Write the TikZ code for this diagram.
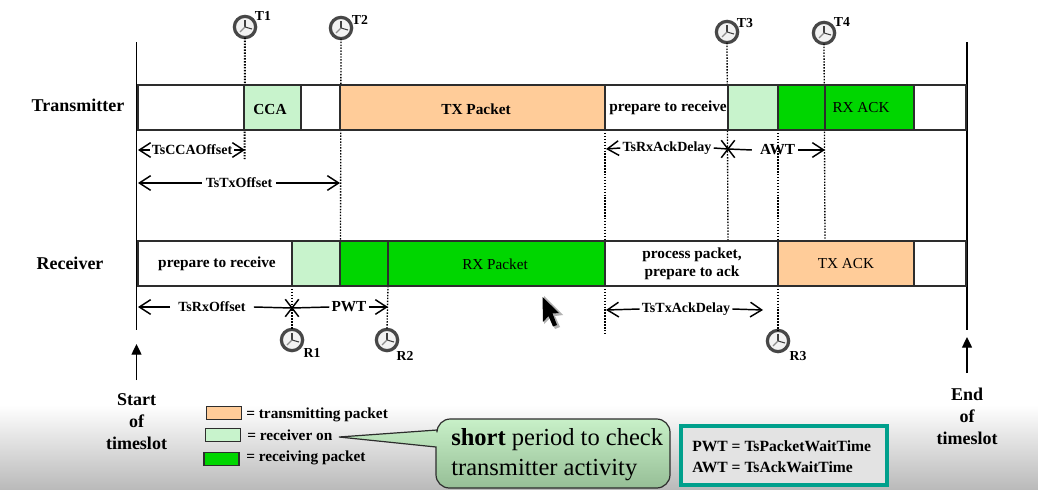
\documentclass[tikz,border=0pt]{standalone}
\usepackage{fontspec}
\setmainfont{Liberation Serif}
\usetikzlibrary{arrows.meta,shapes.misc,calc}
\definecolor{txorange}{RGB}{255,204,153}
\definecolor{rxon}{RGB}{200,243,204}
\definecolor{rxgreen}{RGB}{0,214,0}
\definecolor{tealbox}{RGB}{0,160,140}
\definecolor{edge}{RGB}{45,45,45}
\definecolor{calltop}{RGB}{200,240,200}
\definecolor{callbot}{RGB}{150,190,150}
\tikzset{
  seg/.style={draw=edge,line width=1.5pt,inner sep=0pt,outer sep=0pt,anchor=center,align=center},
  bd/.style={font=\fontsize{11.5}{13.5}\selectfont\bfseries},
  rgl/.style={font=\fontsize{11.4}{13.5}\selectfont},
  dimlbl/.style={font=\fontsize{10.5}{12}\selectfont\bfseries,inner ysep=0pt,inner xsep=1.5pt},
  clocklbl/.style={font=\fontsize{10.3}{12}\selectfont\bfseries,inner sep=0pt},
  side/.style={font=\fontsize{13.5}{16.5}\selectfont\bfseries,inner sep=0pt,align=center},
  legendlbl/.style={font=\fontsize{11.5}{13}\selectfont\bfseries,inner sep=0pt,anchor=west},
  dimline/.style={line width=1.1pt,black},
  dimarrow/.style={dimline,-{Straight Barb[length=8.5pt,width=11pt,line width=1.1pt]}},
  guide/.style={black,line width=1pt,dash pattern=on 1.1pt off 1.1pt},
  wall/.style={black,line width=0.9pt},
  uparrow/.style={line width=1pt,black,-{Triangle[length=8pt,width=7.5pt]}},
  clockface/.style={circle,draw=black!72,fill=black!5,line width=2.4pt,minimum size=16pt,inner sep=0pt,outer sep=0pt},
  xmark/.style={cross out,draw=black,line width=1.1pt,minimum width=9pt,minimum height=12pt,inner sep=0pt},
  swatch/.style={draw=edge,line width=1.2pt,inner sep=0pt,minimum width=26.5pt,minimum height=10pt}
}
\newcommand\seg[6]{\node[seg,fill=#5,minimum width={(#3-#2)*0.75pt},minimum height=33.75pt] (#1) at ({(#2+#3)/2},#4) {#6};}
\newcommand\clockicon[3]{%
  \node[clockface] (#1) at (#2,#3) {};
  \draw[black!75,line width=0.8pt] (#1.center) -- ++(0,-7);
  \draw[black!75,line width=0.8pt] (#1.center) -- ++(7,2);
  \draw[black!45,line width=1pt] (#1.center) -- ++(-5,5);
}
\begin{document}
\begin{tikzpicture}[x=0.75pt,y=-0.75pt]
\useasboundingbox (0,0) rectangle (1038,489);
\fill[white] (0,0) rectangle (1038,489);
\shade[top color=white,bottom color=black!27] (0,405) rectangle (1038,489);

% clocks
\clockicon{T1}{245}{27}
\clockicon{T2}{341}{28}
\clockicon{T3}{727}{32}
\clockicon{T4}{824}{33}
\clockicon{R1}{292}{340}
\clockicon{R2}{387}{340}
\clockicon{R3}{778}{341}
\node[clocklbl] (lT1) at (263,16) {T1};
\node[clocklbl] (lT2) at (360,20) {T2};
\node[clocklbl] (lT3) at (745,23) {T3};
\node[clocklbl] (lT4) at (842,22) {T4};
\node[clocklbl] (lR1) at (312,353) {R1};
\node[clocklbl] (lR2) at (405,356) {R2};
\node[clocklbl] (lR3) at (798,356) {R3};

% named free ends
\coordinate (wallLt) at (136.5,42);
\coordinate (wallLb) at (136.5,330);
\coordinate (wallRt) at (967,42);
\coordinate (wallRb) at (967,330);
\coordinate (g1) at (244.5,159);
\coordinate (g2) at (340.5,241);
\coordinate (g3) at (728,241);
\coordinate (g4) at (825,241);
\coordinate (g5a) at (605,130);
\coordinate (g5b) at (605,241);
\coordinate (g5c) at (605,286);
\coordinate (g5d) at (605,333);
\coordinate (g6a) at (778,130);
\coordinate (g6b) at (778,241);
\coordinate (g6c) at (778,286);
\coordinate (g7) at (292,286);
\coordinate (g8) at (388,286);

\draw[wall] (wallLt) -- (wallLb);
\draw[wall] (wallRt) -- (wallRb);
\draw[guide,line width=1.5pt] (T1.south) -- (g1);
\draw[guide] (T2.south) -- (g2);
\draw[guide] (T3.south) -- (g3);
\draw[guide] (T4.south) -- (g4);
\draw[guide] (g5a) -- (g5b);
\draw[guide] (g5c) -- (g5d);
\draw[guide] (g6a) -- (g6b);
\draw[guide] (g6c) -- (R3.north);
\draw[guide] (g7) -- (R1.north);
\draw[guide] (g8) -- (R2.north);

% transmitter row
\seg{ta}{137.5}{244}{107.5}{white}{}
\seg{tb}{244}{301}{107.5}{rxon}{}
\node[bd,inner sep=0pt] (tcca) at (270,109) {CCA};
\seg{tc}{301}{340}{107.5}{white}{}
\seg{td}{340}{605}{107.5}{txorange}{}
\node[bd,inner sep=0pt] (ttx) at (476,109) {TX Packet};
\seg{te}{605}{728}{107.5}{white}{}
\node[bd,inner sep=0pt] (tprep) at (668,108) {prepare to receive};
\seg{tf}{728}{778}{107.5}{rxon}{}
\seg{tg}{778}{825}{107.5}{rxgreen}{}
\seg{th}{825}{914}{107.5}{rxgreen}{}
\node[rgl,inner sep=0pt] (track) at (861,108) {RX ACK};
\seg{ti}{914}{966}{107.5}{white}{}

% receiver row
\seg{ra}{137.5}{292}{263.5}{white}{}
\node[bd,inner sep=0pt] (rprep) at (217,264) {prepare to receive};
\seg{rb}{292}{340}{263.5}{rxon}{}
\seg{rc}{340}{388}{263.5}{rxgreen}{}
\seg{rd}{388}{605}{263.5}{rxgreen}{}
\node[rgl,inner sep=0pt] (rrx) at (495,264) {RX Packet};
\seg{re}{605}{778}{263.5}{white}{}
\node[bd,inner sep=0pt,align=center] (rproc) at (692,263.5) {process packet,\\prepare to ack};
\seg{rf}{778}{914}{263.5}{txorange}{}
\node[rgl,inner sep=0pt] (rtx) at (846,264) {TX ACK};
\seg{rh}{914}{966}{263.5}{white}{}

% row titles
\node[side] (ttitle) at (78,105) {Transmitter};
\node[side] (rtitle) at (70,263) {Receiver};

% dimension lines, transmitter
\coordinate (d1a) at (138,150);
\coordinate (d1b) at (245,150);
\node[dimlbl] (d1l) at (192,150) {TsCCAOffset};
\draw[dimarrow] (d1l.west) -- (d1a);
\draw[dimarrow] (d1l.east) -- (d1b);

\coordinate (d2a) at (138,183);
\coordinate (d2b) at (340,183);
\node[dimlbl,inner xsep=3pt] (d2l) at (239,183) {TsTxOffset};
\draw[dimarrow] (d2l.west) -- (d2a);
\draw[dimarrow] (d2l.east) -- (d2b);

\coordinate (d3a) at (606,149);
\node[xmark] (x3) at (728,149) {};
\coordinate (d3b) at (825,150);
\node[dimlbl] (d3l) at (667,148) {TsRxAckDelay};
\node[dimlbl,font=\fontsize{11.5}{13}\selectfont\bfseries,inner xsep=2pt] (d4l) at (775,150) {\hspace*{4pt}AWT};
\draw[dimarrow] (d3l.west) -- (d3a);
\draw[dimline] (d3l.east) -- (x3.center);
\draw[dimline] (x3.center) -- (d4l.west);
\draw[dimarrow] (d4l.east) -- (d3b);

% dimension lines, receiver
\coordinate (d5a) at (138,307);
\node[xmark] (x5) at (292,308) {};
\coordinate (d5b) at (388,307);
\node[dimlbl,inner xsep=6pt] (d5l) at (212,307) {TsRxOffset};
\node[dimlbl,font=\fontsize{11.5}{13}\selectfont\bfseries] (d6l) at (349,307) {PWT};
\draw[dimarrow] (d5l.west) -- (d5a);
\draw[dimline] (d5l.east) -- (x5.center);
\draw[dimline] (x5.center) -- (d6l.west);
\draw[dimarrow] (d6l.east) -- (d5b);

\coordinate (d7a) at (606,310);
\coordinate (d7b) at (763,310);
\node[dimlbl] (d7l) at (686,309) {TsTxAckDelay};
\draw[dimarrow] (d7l.west) -- (d7a);
\draw[dimarrow] (d7l.east) -- (d7b);

% cursor
\fill[black!30] (544,296) -- (544,324) -- (550,318) -- (555,329) -- (560,327) -- (555,316) -- (563,315) -- cycle;
\fill[black] (542.5,297) -- (543,322) -- (548.5,316) -- (553,326.5) -- (557,325) -- (552.5,313.5) -- (559,313) -- cycle;

% start and end
\coordinate (s1) at (136.5,380);
\coordinate (s2) at (136.5,344);
\coordinate (e1) at (967,373);
\coordinate (e2) at (967,337);
\draw[uparrow] (s1) -- (s2);
\draw[uparrow] (e1) -- (e2);
\node[side] (stxt) at (136.5,422) {Start\\of\\timeslot};
\node[side] (etxt) at (967,416) {End\\of\\timeslot};

% legend
\node[swatch,fill=txorange] (k1) at (224,413) {};
\node[swatch,fill=rxon] (k2) at (223,435) {};
\node[swatch,fill=rxgreen] (k3) at (221.5,459) {};
\node[legendlbl] (k1t) at (246,415) {= transmitting packet};
\node[legendlbl] (k2t) at (247,435) {= receiver on};
\node[legendlbl] (k3t) at (246,458) {= receiving packet};

% callout
\coordinate (tip) at (339,437);
\draw[draw=edge,line width=0.9pt,top color=calltop,bottom color=callbot]
  (tip) -- (437,430)
  [rounded corners=10pt] -- (437,419) -- (670,419) -- (670,488) -- (436,488)
  [sharp corners] -- (436,447) -- cycle;
\node[inner sep=0pt,align=left,anchor=west,font=\fontsize{18.4}{22}\selectfont] (calltxt) at (451,454.5) {\textbf{short} period to check\\transmitter activity};

% abbreviations
\node[draw=tealbox,line width=3pt,fill=black!11,minimum width=155pt,minimum height=44.5pt,inner sep=0pt] (abbr) at (784,455.5) {};
\node[inner sep=0pt,anchor=west,align=left,font=\fontsize{11.7}{15.8}\selectfont\bfseries] (abbrtxt) at (692,456.5) {PWT = TsPacketWaitTime\\AWT = TsAckWaitTime};
\end{tikzpicture}
\end{document}
